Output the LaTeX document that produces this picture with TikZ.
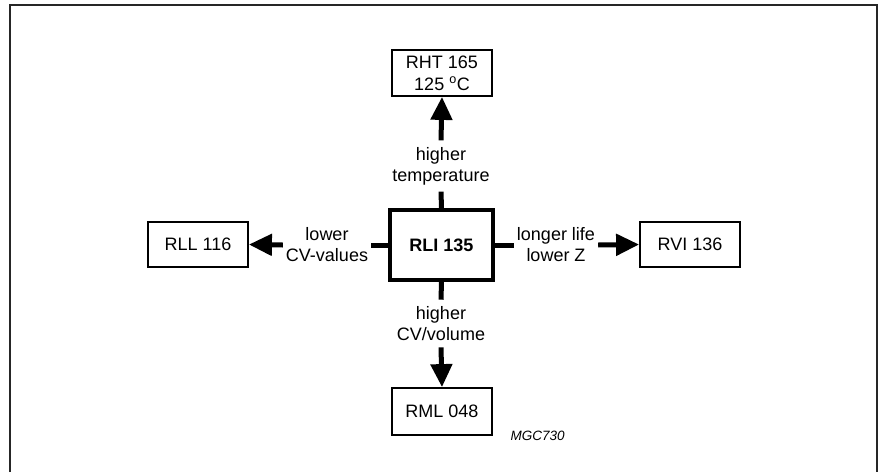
\documentclass[tikz,border=0pt]{standalone}
\usepackage{fontspec}
\setmainfont{Liberation Sans}
\usepackage{tikz}
\usetikzlibrary{arrows.meta,positioning}

\begin{document}
\begin{tikzpicture}[x=1pt,y=-1pt,
    typebox/.style={draw,line width=1.8pt,minimum width=100pt,minimum height=45pt,
      inner sep=0pt,align=center,font=\fontsize{18}{22}\selectfont},
    mainbox/.style={typebox,line width=3.5pt,minimum width=103pt,minimum height=70pt,
      font=\fontsize{18}{22}\selectfont\bfseries},
    vlabel/.style={inner xsep=0pt,inner ysep=6.5pt,align=center,font=\fontsize{18}{21}\selectfont},
    hlabel/.style={inner xsep=3pt,inner ysep=0pt,align=center,font=\fontsize{18}{21}\selectfont},
    stub/.style={line width=5pt},
    push/.style={line width=5pt,-{Triangle[length=23pt,width=21pt]}}]
  \useasboundingbox (0,0) rectangle (878,472);
  % frame, open at the bottom
  \draw[line width=1.8pt,black!85] (10,472) -- (10,5) -- (877,5) -- (877,472);
  % boxes
  \node[mainbox] (rli) at (441.5,245) {RLI 135};
  \node[typebox,minimum height=46pt] (rht) at (442,73) {RHT 165\\125 \textsuperscript{o}C};
  \node[typebox,minimum height=47pt] (rml) at (442,411.5) {RML 048};
  \node[typebox] (rll) at (198,244.5) {RLL 116};
  \node[typebox] (rvi) at (690,244.5) {RVI 136};
  % labels on the connectors
  \node[vlabel] (uplbl) at (441,166) {higher\\temperature};
  \node[vlabel] (downlbl) at (441,323.5) {higher\\CV/volume};
  \node[hlabel] (leftlbl) at (327,245) {lower\\CV-values};
  \node[hlabel] (rightlbl) at (556,245) {longer life\\lower Z};
  % connectors
  \draw[stub] (rli.north) -- (uplbl.south);
  \draw[push] (uplbl.north) -- (rht.south);
  \draw[stub] (rli.south) -- (downlbl.north);
  \draw[push] (downlbl.south) -- (rml.north);
  \draw[stub] (rli.west) -- (leftlbl.east);
  \draw[push] (leftlbl.west) -- (rll.east);
  \draw[stub] (rli.east) -- (rightlbl.west);
  \draw[push] (rightlbl.east) -- (rvi.west);
  % figure code
  \node[font=\fontsize{13.5}{16}\selectfont\itshape,anchor=west] (code) at (507,436) {MGC730};
\end{tikzpicture}
\end{document}
